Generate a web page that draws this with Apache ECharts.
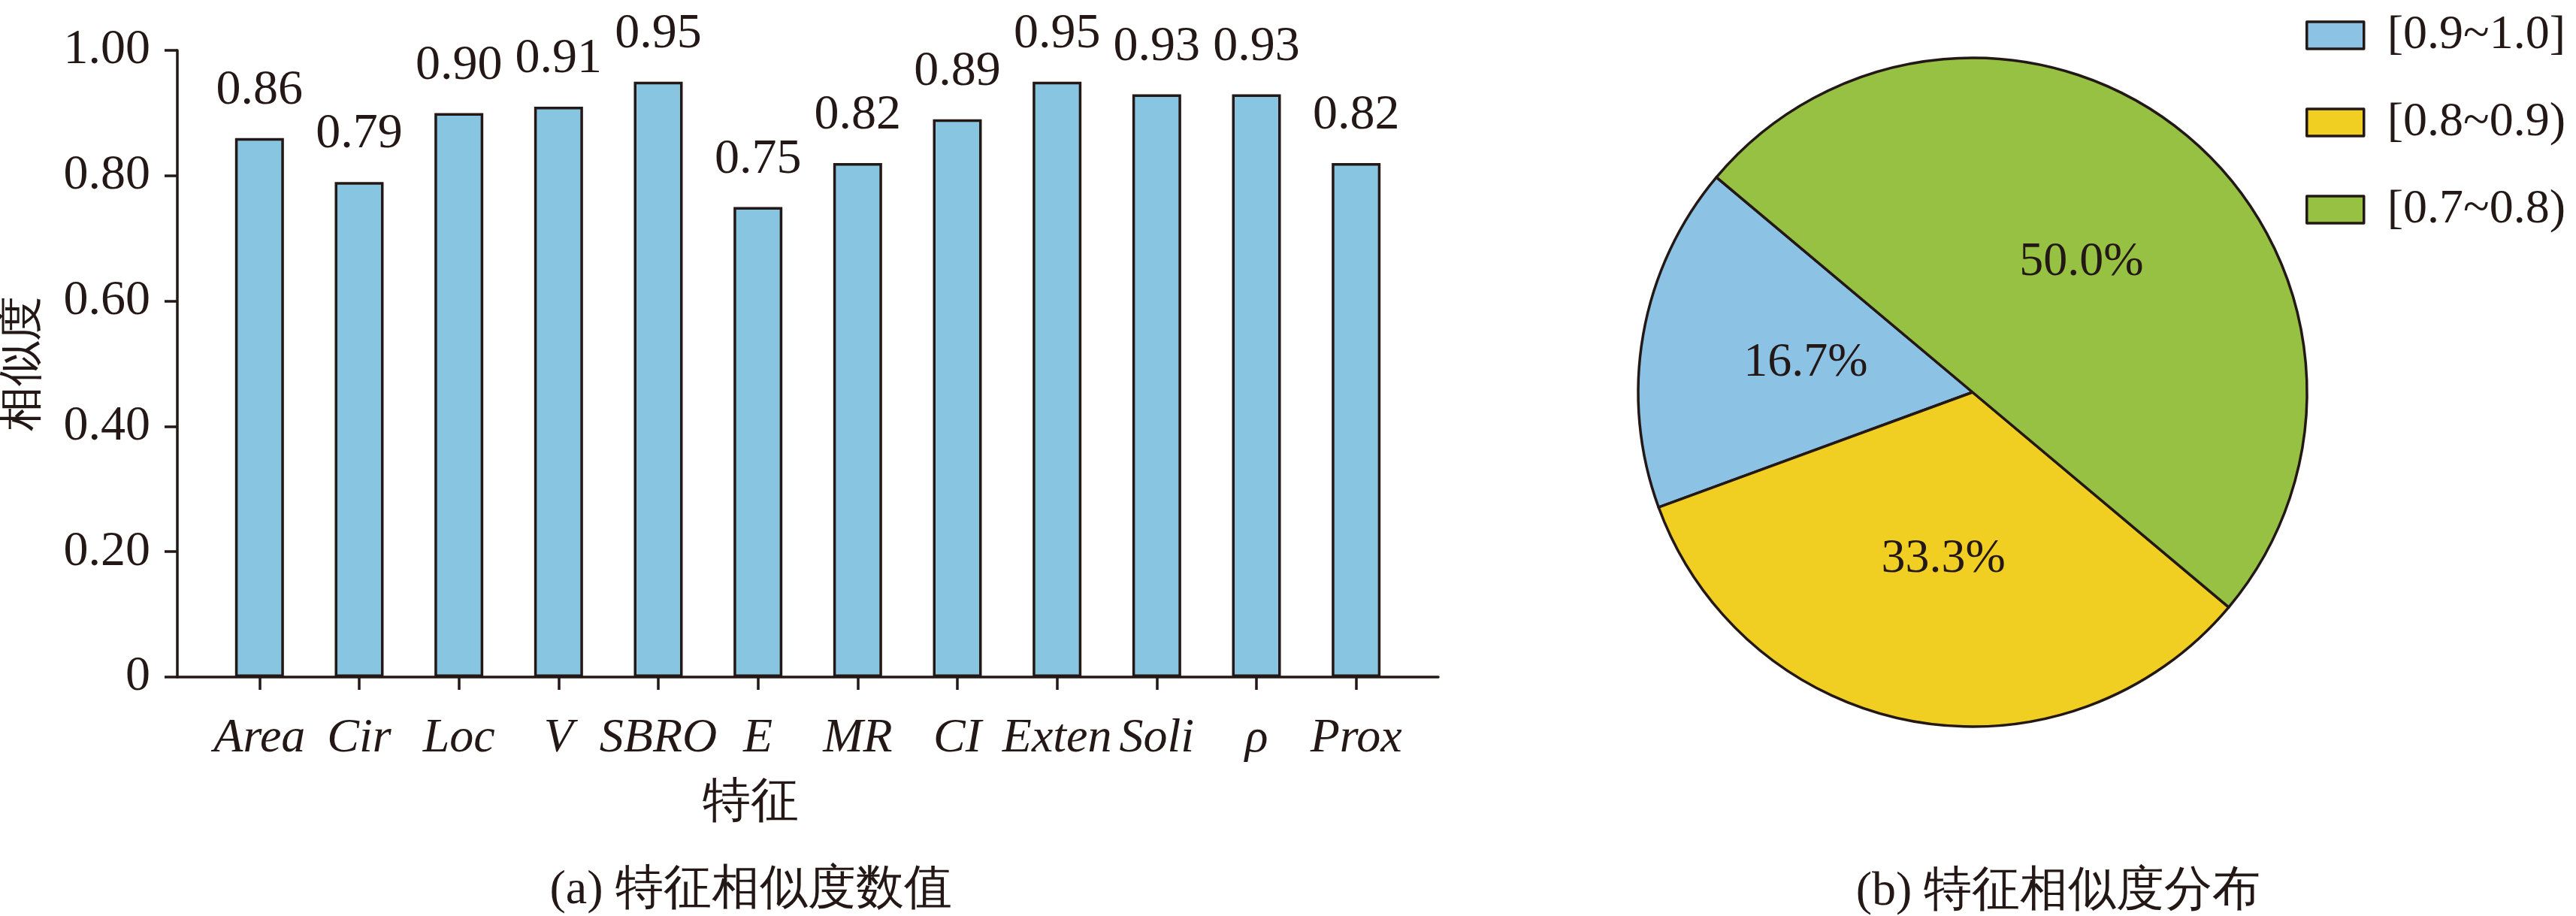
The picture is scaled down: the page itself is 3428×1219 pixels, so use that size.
<!DOCTYPE html>
<html>
<head>
<meta charset="utf-8">
<script src="https://cdn.jsdelivr.net/npm/echarts@6/dist/echarts.min.js"></script>
<style>
html,body{margin:0;padding:0;background:#fff;}
#c{width:3428px;height:1219px;background:#fff;}
</style>
</head>
<body>
<div id="c"></div>
<script>
// ---- data ----
const categories = ['Area','Cir','Loc','V','SBRO','E','MR','CI','Exten','Soli','\u03c1','Prox'];
const similarity = [0.86,0.79,0.90,0.91,0.95,0.75,0.82,0.89,0.95,0.93,0.93,0.82];
const yTicks = [0, 0.2, 0.4, 0.6, 0.8, 1.0];
const pieNames = ['[0.9~1.0]','[0.8~0.9)','[0.7~0.8)'];
const piePercents = [16.7, 33.3, 50.0];
const pieColors = ['#8CC3E5','#F1CF22','#96C142'];
const xName = '特征';
const yName = '相似度';
const captionA = '(a) 特征相似度数值';
const captionB = '(b) 特征相似度分布';

const INK = '#231815';
const TXT = '#231816';
const SERIF = 'Liberation Serif';

const chart = echarts.init(document.getElementById('c'), null, {renderer:'canvas'});
// category slots on a value axis: slot i is centred at EDGE + i
const EDGE = 0.824;
const slotPos = categories.map((_, i) => EDGE + i);
const barData = similarity.map((v, i) => [slotPos[i], v]);
const xMax = categories.length - 1 + 2 * EDGE;

const option = {
  animation: false,
  grid: [{left: 236, top: 67, width: 1678, height: 834, outerBoundsMode: 'none'}],
  xAxis: [
    { // labels
      type: 'value', position: 'bottom', min: 0, max: xMax,
      splitLine: {show: false}, axisLine: {show: false}, axisTick: {show: false},
      axisLabel: {
        show: true, customValues: slotPos, margin: 50,
        formatter: v => categories[Math.round(v - EDGE)],
        fontFamily: SERIF, fontStyle: 'italic', fontSize: 64, color: TXT
      }
    },
    { // line and ticks
      type: 'value', position: 'bottom', min: 0, max: xMax,
      splitLine: {show: false}, axisLabel: {show: false},
      axisLine: {show: true, lineStyle: {color: INK, width: 3.5}},
      axisTick: {show: true, customValues: slotPos, length: 17, lineStyle: {color: INK, width: 3.5}}
    }
  ],
  yAxis: [
    { // labels
      type: 'value', position: 'left', min: 0, max: 1, interval: 0.2,
      splitLine: {show: false}, axisLine: {show: false}, axisTick: {show: false},
      axisLabel: {
        margin: 36, fontFamily: SERIF, fontSize: 66, color: TXT,
        formatter: v => (Math.abs(v) < 1e-9 ? '0' : v.toFixed(2))
      }
    },
    { // line and ticks
      type: 'value', position: 'left', min: 0, max: 1, interval: 0.2,
      splitLine: {show: false}, axisLabel: {show: false},
      axisLine: {show: true, lineStyle: {color: INK, width: 3.5}},
      axisTick: {show: true, length: 17, lineStyle: {color: INK, width: 3.5}}
    }
  ],
  legend: {
    orient: 'vertical', left: 3063, top: 10,
    data: pieNames,
    icon: 'rect', itemWidth: 76, itemHeight: 36, itemGap: 52,
    itemStyle: {borderColor: INK, borderWidth: 3.5},
    textStyle: {fontFamily: SERIF, fontSize: 64, color: TXT, padding: [0, 0, 0, 26]}
  },
  series: [
    {
      type: 'bar', xAxisIndex: 0, yAxisIndex: 0,
      data: barData, barWidth: 65,
      itemStyle: {color: '#88C5E0', borderColor: INK, borderWidth: 3.5},
      label: {
        show: true, position: 'top', distance: 30,
        fontFamily: SERIF, fontSize: 66, color: TXT,
        formatter: p => p.value[1].toFixed(2)
      }
    },
    {
      type: 'pie', center: [2625, 522], radius: 445,
      startAngle: 140, clockwise: false,
      data: pieNames.map((n, i) => ({name: n, value: piePercents[i], itemStyle: {color: pieColors[i]}})),
      itemStyle: {borderColor: INK, borderWidth: 3.5},
      label: {
        show: true, position: 'inside',
        fontFamily: SERIF, fontSize: 64, color: TXT,
        formatter: p => p.percent.toFixed(1) + '%'
      },
      labelLine: {show: false},
      emphasis: {disabled: true}
    }
  ],
  graphic: [
    {type: 'text', x: 31, y: 484, rotation: Math.PI / 2, style: {text: yName, textAlign: 'center', textVerticalAlign: 'middle', font: '60px ' + SERIF, fill: TXT}},
    {type: 'text', x: 999, y: 1069, style: {text: xName, textAlign: 'center', textVerticalAlign: 'middle', font: '64px ' + SERIF, fill: TXT}},
    {type: 'text', x: 999, y: 1185, style: {text: captionA, textAlign: 'center', textVerticalAlign: 'middle', font: '64px ' + SERIF, fill: TXT}},
    {type: 'text', x: 2739, y: 1187, style: {text: captionB, textAlign: 'center', textVerticalAlign: 'middle', font: '64px ' + SERIF, fill: TXT}}
  ]
};
chart.setOption(option);
</script>
</body>
</html>
